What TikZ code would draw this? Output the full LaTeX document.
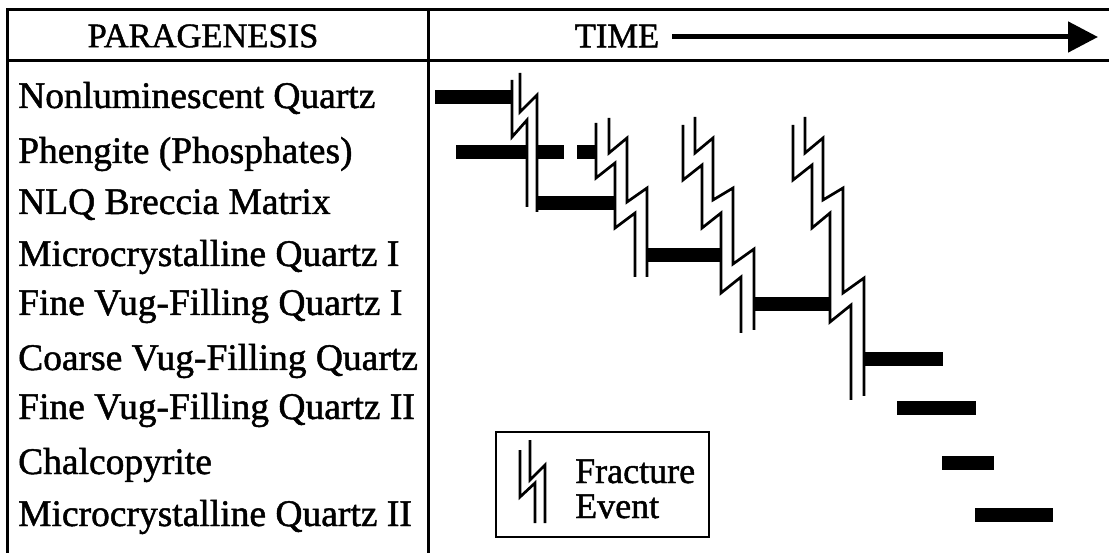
\documentclass[tikz,border=0pt]{standalone}
\usepackage{fontspec}
\setmainfont{Liberation Serif}
\newfontfamily\heavyfont{Liberation Serif}[FakeBold=1.3]
\usetikzlibrary{arrows.meta}
\begin{document}
\begin{tikzpicture}[x=1pt,y=-1pt,
  tbl/.style={line width=3pt},
  bar/.style={line width=14pt},
  frac/.style={line width=2.7pt, line join=miter},
  lbl/.style={anchor=base west, font=\heavyfont\fontsize{37.5}{40}\selectfont, inner sep=0pt},
  hdr/.style={anchor=center, font=\heavyfont\fontsize{34.5}{38}\selectfont, inner sep=0pt},
  ]
\useasboundingbox (0,0) rectangle (1109,553);
% table
\draw[tbl] (7,10) -- (1109,10);
\draw[tbl] (7,61) -- (1109,61);
\draw[tbl] (7,8.5) -- (7,553);
\draw[tbl] (428,10) -- (428,553);
% header
\node[hdr] (hP) at (203,36) {PARAGENESIS};
\node[hdr] (hT) at (617,36) {TIME};
\coordinate (tEnd) at (1098,37);
\draw[line width=5pt, -{Triangle[length=30pt,width=30pt]}] (672,37) -- (tEnd);
% labels
\node[lbl] (r1) at (18,108) {Nonluminescent Quartz};
\node[lbl] (r2) at (18,163) {Phengite (Phosphates)};
\node[lbl] (r3) at (18,214) {NLQ Breccia Matrix};
\node[lbl] (r4) at (18,266) {Microcrystalline Quartz I};
\node[lbl] (r5) at (18,315) {Fine Vug-Filling Quartz I};
\node[lbl] (r6) at (18,370) {Coarse Vug-Filling Quartz};
\node[lbl] (r7) at (18,419) {Fine Vug-Filling Quartz II};
\node[lbl] (r8) at (18,474) {Chalcopyrite};
\node[lbl] (r9) at (18,526) {Microcrystalline Quartz II};
% bars
\draw[bar] (435,97) -- (512,97);
\draw[bar] (456,152) -- (527,152);
\draw[bar] (537,152) -- (564,152);
\draw[bar] (577,152) -- (596,152);
\draw[bar] (537,203) -- (615,203);
\draw[bar] (647,255) -- (721,255);
\draw[bar] (755,304) -- (830,304);
\draw[bar] (864,359) -- (943,359);
\draw[bar] (897,408) -- (976,408);
\draw[bar] (942,463) -- (994,463);
\draw[bar] (975,515) -- (1053,515);
% fractures
\draw[frac] (512,80)--(512,137)--(527,120)--(527,207);
\draw[frac] (520,73)--(520,112)--(537,95)--(537,212);
\draw[frac] (596,123)--(596,178)--(615,163)--(615,228)--(635,213)--(635,277);
\draw[frac] (609,118)--(609,153)--(627,138)--(627,202)--(647,188)--(647,277);
\draw[frac] (683,125)--(683,180)--(702,165)--(702,228)--(721,213)--(721,293)--(741,277)--(741,333);
\draw[frac] (695,117)--(695,153)--(713,138)--(713,200)--(733,188)--(733,264)--(754,249)--(754,330);
\draw[frac] (793,125)--(793,180)--(812,165)--(812,228)--(830,213)--(830,322)--(851,305)--(851,400);
\draw[frac] (805,117)--(805,153)--(823,138)--(823,200)--(843,188)--(843,293)--(864,278)--(864,396);
% legend
\draw[line width=2.5pt] (496,432) rectangle (709,537);
\draw[frac] (520,450)--(520,497)--(535,483)--(535,523);
\draw[frac] (530,440)--(530,480)--(545,465)--(545,523);
\node[lbl, font=\heavyfont\fontsize{36}{38}\selectfont] (lg1) at (575,483) {Fracture};
\node[lbl, font=\heavyfont\fontsize{36}{38}\selectfont] (lg2) at (575,518) {Event};
\end{tikzpicture}
\end{document}
